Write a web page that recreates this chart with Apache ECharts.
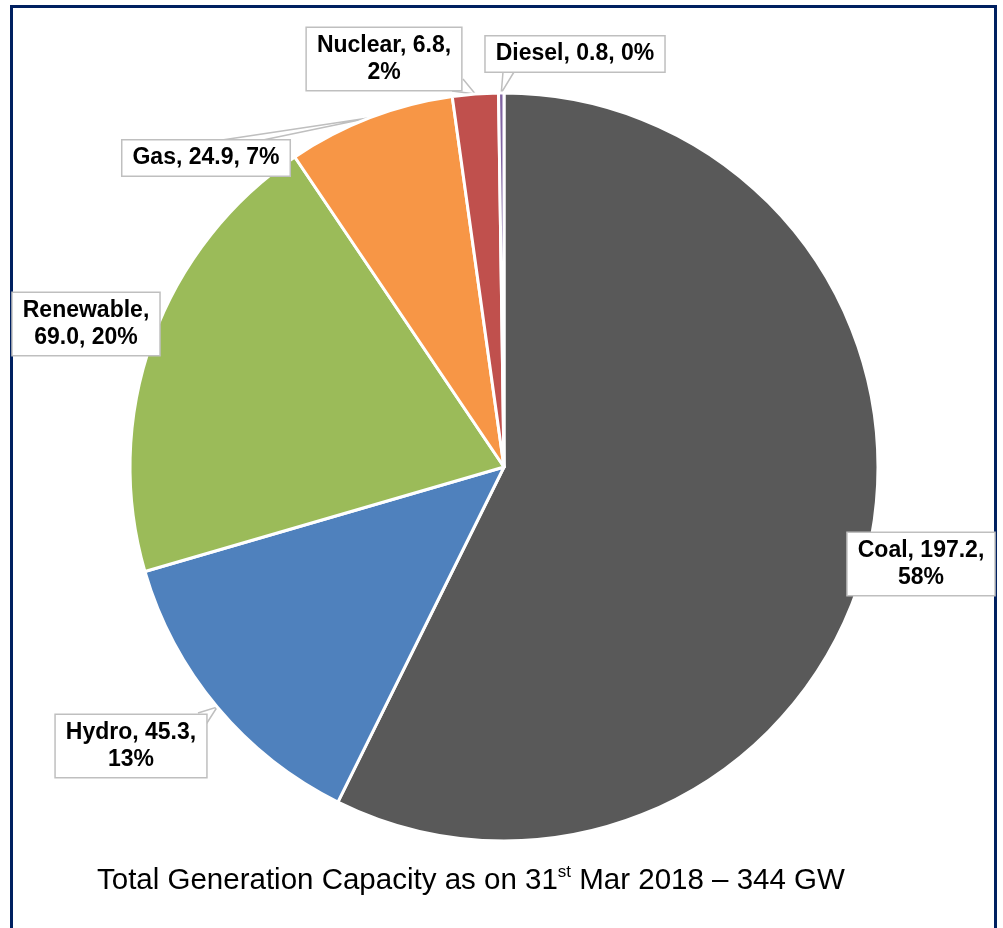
<!DOCTYPE html>
<html>
<head>
<meta charset="utf-8">
<style>
  html, body { margin: 0; padding: 0; background: #ffffff; }
  #chart { width: 1003px; height: 928px; }
</style>
<script src="https://cdn.jsdelivr.net/npm/echarts@6/dist/echarts.min.js"></script>
</head>
<body>
<div id="chart"></div>
<script>
// Installed generation capacity by source (GW)
const sources = ['Coal', 'Hydro', 'Renewable', 'Gas', 'Nuclear', 'Diesel'];
const capacityGW = [197.2, 45.3, 69.0, 24.9, 6.8, 0.8];
const shareLabels = ['58%', '13%', '20%', '7%', '2%', '0%'];
const sliceColors = ['#595959', '#4f81bd', '#9bbb59', '#f79646', '#c0504d', '#8064a2'];

// Where each callout wraps: after the name (1), after the value (2), or not at all (0)
const wrapAfter = [2, 2, 1, 0, 2, 0];
// Callout box centres in pixels
const calloutCentres = [
  [921, 564], [131, 746], [86, 324], [206, 158], [384, 59], [575, 54]
];
// Base corners of each callout's pointer wedge (null = no pointer)
const pointerBases = [
  null,
  [[198, 713], [205, 726]],
  null,
  [[222, 140], [263, 140]],
  [[463, 79], [452, 91]],
  [[503, 72], [514, 72]]
];

const FONT = "'Liberation Sans', Arial, Helvetica, sans-serif";

const chart = echarts.init(document.getElementById('chart'), null, { renderer: 'canvas' });

chart.setOption({
  backgroundColor: '#ffffff',
  animation: false,
  title: {
    left: 92,
    top: 859,
    text: '{a|Total Generation Capacity as on 31}{s|st}{a| Mar 2018 \u2013 344 GW}',
    textStyle: {
      fontWeight: 'normal',
      rich: {
        a: { fontFamily: FONT, fontSize: 29.5, fontWeight: 'normal', color: '#000000', lineHeight: 34 },
        s: { fontFamily: FONT, fontSize: 17, fontWeight: 'normal', color: '#000000', lineHeight: 34, verticalAlign: 'top', padding: [0, 0, 10, 0] }
      }
    }
  },
  graphic: [{
    type: 'rect',
    z: -1,
    shape: { x: 11.5, y: 6.5, width: 984, height: 960 },
    style: { fill: 'none', stroke: '#002060', lineWidth: 3 }
  }],
  series: [{
    type: 'pie',
    center: [504, 467],
    radius: [0, 374],
    startAngle: 90,
    clockwise: true,
    avoidLabelOverlap: false,
    itemStyle: { borderColor: '#ffffff', borderWidth: 3 },
    data: sources.map((name, i) => ({
      name: name,
      value: capacityGW[i],
      itemStyle: { color: sliceColors[i] },
      labelLine: { show: pointerBases[i] !== null }
    })),
    label: {
      show: true,
      position: 'outside',
      fontFamily: FONT,
      fontSize: 23,
      fontWeight: 'bold',
      color: '#000000',
      lineHeight: 27,
      align: 'center',
      backgroundColor: '#ffffff',
      borderColor: '#bfbfbf',
      borderWidth: 1.5,
      padding: [4, 10, 4, 10],
      formatter: (p) => {
        const i = p.dataIndex;
        const name = p.name + ',';
        const val = capacityGW[i].toFixed(1) + ',';
        const pct = shareLabels[i];
        if (wrapAfter[i] === 1) return name + '\n' + val + ' ' + pct;
        if (wrapAfter[i] === 2) return name + ' ' + val + '\n' + pct;
        return name + ' ' + val + ' ' + pct;
      }
    },
    labelLine: {
      show: true,
      length: 10,
      length2: 10,
      lineStyle: { color: '#bfbfbf', width: 1.5 }
    },
    labelLayout: (params) => {
      const i = params.dataIndex;
      const c = calloutCentres[i];
      const out = { x: c[0], y: c[1], align: 'center', verticalAlign: 'middle' };
      const bases = pointerBases[i];
      if (bases && params.labelLinePoints) {
        // wedge: base corner -> slice edge at mid-angle -> other base corner
        const tip = params.labelLinePoints[0];
        out.labelLinePoints = [bases[0], [tip[0], tip[1]], bases[1]];
      }
      return out;
    }
  }]
});
</script>
</body>
</html>
